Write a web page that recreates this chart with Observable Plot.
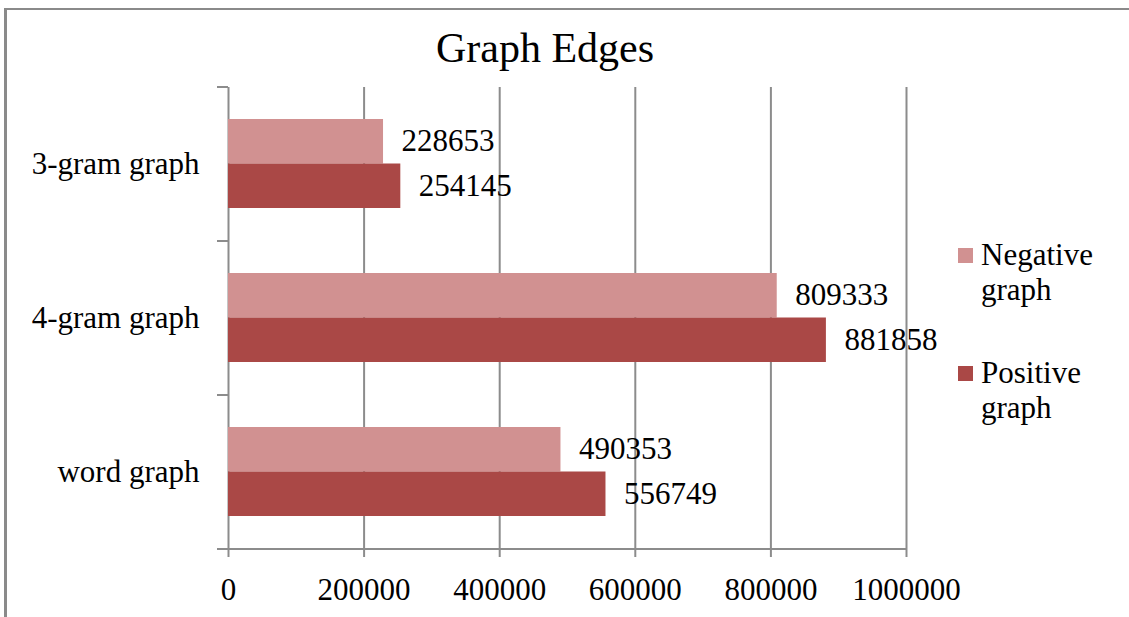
<!DOCTYPE html>
<html>
<head>
<meta charset="utf-8">
<script src="https://cdn.jsdelivr.net/npm/d3@7"></script>
<script src="https://cdn.jsdelivr.net/npm/@observablehq/plot@0.6"></script>
<style>
  html, body { margin: 0; padding: 0; background: #fff; overflow: hidden; }
  #wrap { position: relative; width: 1129px; height: 617px; overflow: hidden; font-family: "Liberation Serif", serif; color: #000; }
  #border { position: absolute; left: 4px; top: 8px; width: 1200px; height: 700px; border-top: 2px solid #8a8a8a; border-left: 3px solid #8a8a8a; }
  #title { position: relative; height: 70px; box-sizing: border-box; padding-top: 27px; width: 1090px; text-align: center; font-size: 42px; line-height: 1; }
  #chart svg { display: block; }
  .leg { position: absolute; left: 958px; font-size: 31px; line-height: 35px; }
  .leg .sw { position: absolute; left: 0; width: 15px; height: 15px; }
  .leg .tx { position: absolute; left: 23px; white-space: nowrap; }
</style>
</head>
<body>
<div id="wrap">
  <div id="border"></div>
  <div id="title">Graph Edges</div>
  <div id="chart"></div>
  <div id="legend"></div>
</div>
<script>
const categories = ["3-gram graph", "4-gram graph", "word graph"];
const negativeValues = [228653, 809333, 490353];
const positiveValues = [254145, 881858, 556749];
const seriesNames = ["Negative graph", "Positive graph"];
const seriesColors = ["#d19191", "#aa4846"];
const xTicks = [0, 200000, 400000, 600000, 800000, 1000000];

const gridColor = "#8c8c8c";
const neg = categories.map((c, i) => ({category: c, value: negativeValues[i]}));
const pos = categories.map((c, i) => ({category: c, value: positiveValues[i]}));
const fmt = d => String(d);

function edgeTicks(index, scales, values, dimensions) {
  const y = scales.y;
  const left = dimensions.marginLeft;
  const right = dimensions.width - dimensions.marginRight;
  const top = dimensions.marginTop;
  const bottom = dimensions.height - dimensions.marginBottom;
  const bw = (y && y.bandwidth) ? y.bandwidth() : (bottom - top) / categories.length;
  const ys = categories.map(c => y(c));
  ys.push(ys[ys.length - 1] + bw);
  const g = d3.create("svg:g").attr("stroke", gridColor).attr("stroke-width", 2).attr("fill", "none");
  for (const yy of ys) {
    g.append("line").attr("x1", left - 11).attr("x2", left).attr("y1", yy).attr("y2", yy);
  }
  g.append("line").attr("x1", left - 11).attr("x2", right).attr("y1", ys[ys.length - 1]).attr("y2", ys[ys.length - 1]);
  return g.node();
}

const chart = Plot.plot({
  width: 1129,
  height: 547,
  marginTop: 17,
  marginBottom: 68,
  marginLeft: 228,
  marginRight: 223,
  style: {fontFamily: "Liberation Serif, serif", fontSize: "31px", color: "#000", background: "transparent"},
  x: {domain: [0, 1000000], ticks: xTicks, tickFormat: fmt},
  y: {domain: categories, padding: 0},
  marks: [
    Plot.ruleX(xTicks, {stroke: gridColor, strokeWidth: 2}),
    Plot.barX(neg, {y: "category", x: "value", fill: seriesColors[0], insetTop: 32, insetBottom: 77.5}),
    Plot.barX(pos, {y: "category", x: "value", fill: seriesColors[1], insetTop: 76.5, insetBottom: 33}),
    Plot.text(neg, {y: "category", x: "value", text: d => fmt(d.value), textAnchor: "start", dx: 18, dy: -23, fontSize: 31, fill: "#000"}),
    Plot.text(pos, {y: "category", x: "value", text: d => fmt(d.value), textAnchor: "start", dx: 18, dy: 22, fontSize: 31, fill: "#000"}),
    edgeTicks,
    Plot.axisX({ticks: xTicks, tickFormat: fmt, tickSize: 8, tickPadding: 20, stroke: gridColor, strokeWidth: 2, fill: "#000", fontSize: 31, label: null}),
    Plot.axisY({tickSize: 0, tickPadding: 29, fill: "#000", fontSize: 31, label: null})
  ]
});
document.getElementById("chart").appendChild(chart);

const legend = document.getElementById("legend");
const legTops = [237, 355];
seriesNames.forEach((name, i) => {
  const d = document.createElement("div");
  d.className = "leg";
  d.style.top = legTops[i] + "px";
  const sw = document.createElement("div");
  sw.className = "sw";
  sw.style.background = seriesColors[i];
  sw.style.top = "11px";
  const tx = document.createElement("div");
  tx.className = "tx";
  tx.innerHTML = name.split(" ").join("<br>");
  d.appendChild(sw);
  d.appendChild(tx);
  legend.appendChild(d);
});
</script>
</body>
</html>
